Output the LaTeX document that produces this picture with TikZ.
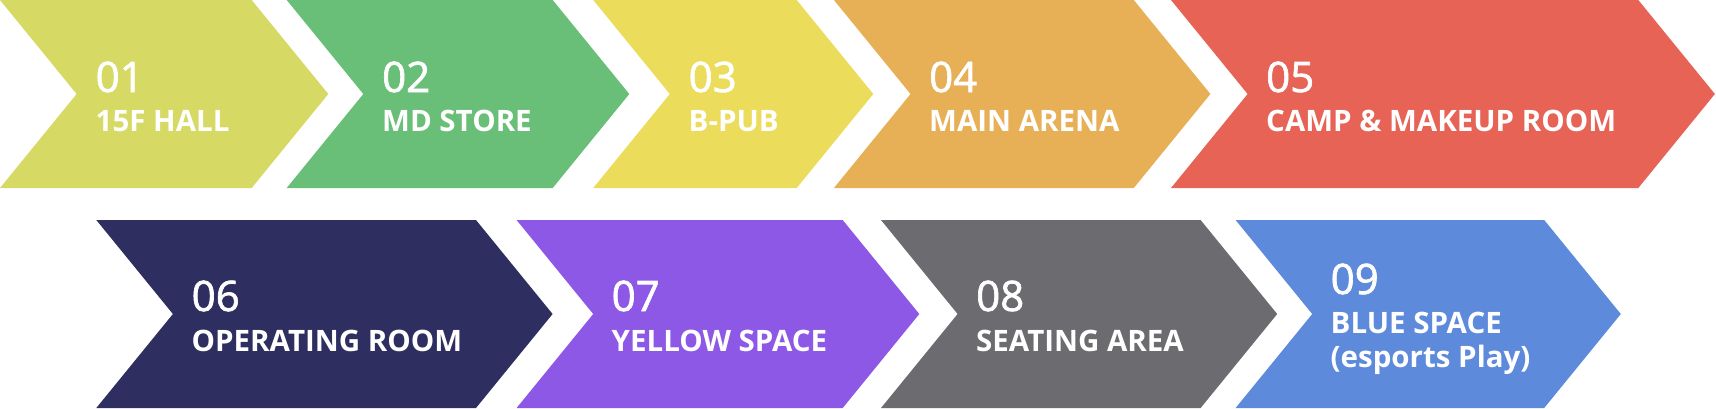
\documentclass[tikz,border=0pt]{standalone}
\usepackage{fontspec}
\setmainfont{Open Sans}
\newfontfamily\numfont[FakeBold=1.6]{Open Sans}
\definecolor{cA}{HTML}{D6DA64}
\definecolor{cB}{HTML}{69BF78}
\definecolor{cC}{HTML}{ECDC5C}
\definecolor{cD}{HTML}{E7B057}
\definecolor{cE}{HTML}{E66356}
\definecolor{cF}{HTML}{2F2E60}
\definecolor{cG}{HTML}{8D58E6}
\definecolor{cH}{HTML}{6C6B70}
\definecolor{cI}{HTML}{5D8ADA}
\newcommand{\chevron}[5]{% x0, x1, ytop, ybot, colour
  \fill[#5] (#1,#3) -- (#2,#3) -- ({#2+76.6},{(#3+#4)/2}) -- (#2,#4) -- (#1,#4)
    -- ({#1+76.6},{(#3+#4)/2}) -- cycle;}
\tikzset{
  num/.style={anchor=base west, inner sep=0pt, text=white, font=\numfont\fontsize{42}{42}\selectfont},
  lab/.style={anchor=base west, inner sep=0pt, text=white, font=\bfseries\fontsize{29.5}{34}\selectfont, align=left},
}
\begin{document}
\begin{tikzpicture}[x=1pt,y=-1pt]
\useasboundingbox (0,0) rectangle (1716,408);
% row 1
\chevron{0}{251.7}{0}{188}{cA}
\chevron{286.7}{552.7}{0}{188}{cB}
\chevron{593.2}{796.7}{0}{188}{cC}
\chevron{833.9}{1133.8}{0}{188}{cD}
\chevron{1171}{1638.3}{0}{188}{cE}
% row 2
\chevron{96.3}{476}{220}{408}{cF}
\chevron{516.6}{842.7}{220}{408}{cG}
\chevron{881}{1200.6}{220}{408}{cH}
\chevron{1235.6}{1544.2}{220}{408}{cI}
% texts row 1
\node[num] (n1) at (95.5,92) {01};
\node[lab] (l1) at (95.5,131) {15F HALL};
\node[num] (n2) at (382,92) {02};
\node[lab] (l2) at (382,131) {MD STORE};
\node[num] (n3) at (688.5,92) {03};
\node[lab] (l3) at (688.5,131) {B-PUB};
\node[num] (n4) at (929,92) {04};
\node[lab] (l4) at (929,131) {MAIN ARENA};
\node[num] (n5) at (1266,92) {05};
\node[lab] (l5) at (1266,131) {CAMP \& MAKEUP ROOM};
% texts row 2
\node[num] (n6) at (191.5,311) {06};
\node[lab] (l6) at (191.5,351) {OPERATING ROOM};
\node[num] (n7) at (611.5,311) {07};
\node[lab] (l7) at (611.5,351) {YELLOW SPACE};
\node[num] (n8) at (976,311) {08};
\node[lab] (l8) at (976,351) {SEATING AREA};
\node[num] (n9) at (1330.5,294) {09};
\node[lab] (l9) at (1330.5,333) {BLUE SPACE};
\node[lab] (m9) at (1330.5,367) {(esports Play)};
\end{tikzpicture}
\end{document}
